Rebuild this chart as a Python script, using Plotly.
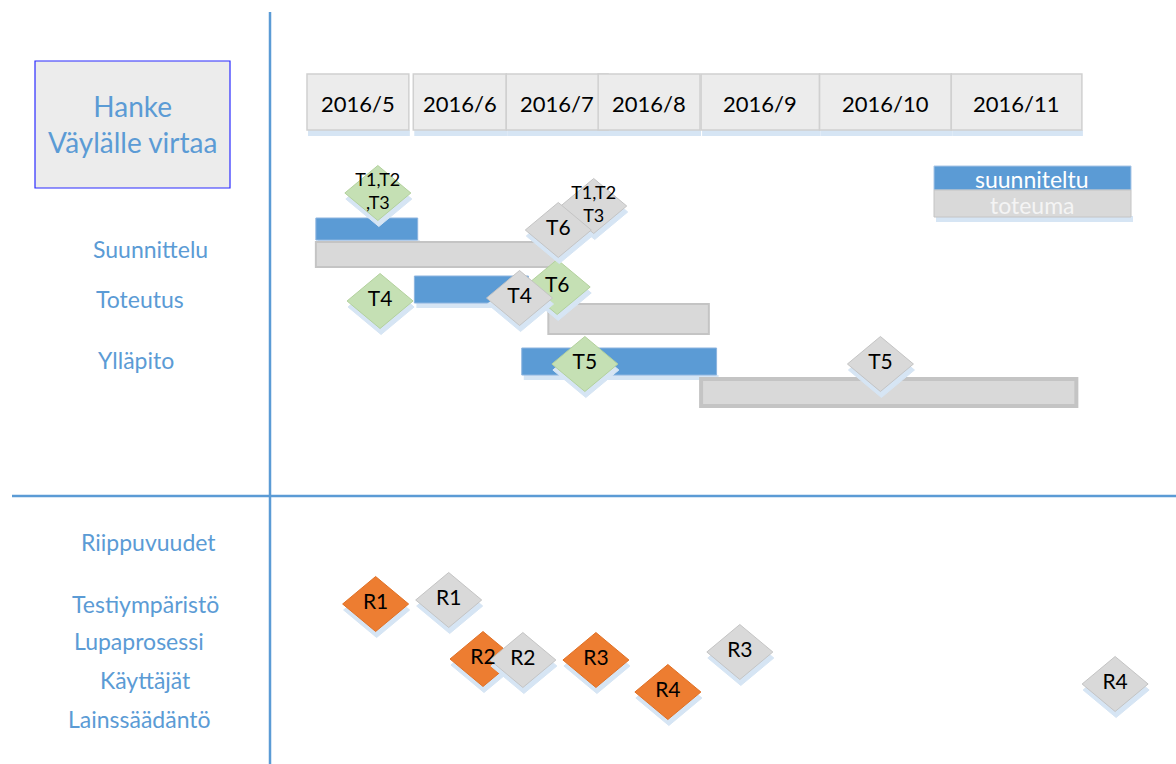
import plotly.graph_objects as go

# ---------------- data ----------------
months = ["2016/5", "2016/6", "2016/7", "2016/8", "2016/9", "2016/10", "2016/11"]
month_box_start = [5.00, 5.96, 6.80, 7.63, 8.56, 9.63, 10.82]
month_box_end = [5.92, 6.80, 7.72, 8.55, 9.63, 10.82, 12.00]

phases = ["Suunnittelu", "Toteutus", "Ylläpito"]
planned_start = [5.08, 5.97, 6.94]
planned_end = [6.00, 7.00, 8.70]
actual_start = [5.08, 7.18, 8.56]
actual_end = [7.26, 8.63, 11.95]

task_planned_labels = ["T1,T2<br>,T3", "T4", "T6", "T5"]
task_planned_month = [5.64, 5.66, 7.26, 7.51]
task_actual_labels = ["T1,T2<br>T3", "T6", "T4", "T5"]
task_actual_month = [7.59, 7.27, 6.92, 10.18]

dependencies = ["Riippuvuudet", "Testiympäristö", "Lupaprosessi", "Käyttäjät", "Lainssäädäntö"]
risk_planned_labels = ["R1", "R2", "R3", "R4"]
risk_planned_month = [5.62, 6.59, 7.61, 8.26]
risk_actual_labels = ["R1", "R2", "R3", "R4"]
risk_actual_month = [6.28, 6.95, 8.91, 12.30]

title_text = "Hanke<br>Väylälle virtaa"
legend_labels = ["suunniteltu", "toteuma"]

# ---------------- layout constants (positions / styles) ----------------
W, H = 1176, 764
PX_PER_MONTH = 110.7
MAY_PX = 307
FONT = "Lato, Carlito, sans-serif"
BLUE = "#5b9bd5"
GRAY = "#d9d9d9"
GRAY_LINE = "#c4c4c4"
GREEN = "#c5e0b4"
ORANGE = "#ed7d31"
SHADOW = "#d6e5f4"

def mx(px):
    return 5 + (px - MAY_PX) / PX_PER_MONTH

def pxm(px):  # pixel length -> months
    return px / PX_PER_MONTH

def pp(px):  # pixel -> paper x
    return px / W

planned_bar_y = [(218, 240), (276, 303), (348, 375)]
actual_bar_y = [(241, 268), (303, 335), (377, 408)]
actual_bar_lw = [2, 2, 4]
task_planned_y = [193, 301, 287, 364]
task_actual_y = [206, 230, 298, 364]
task_planned_size = [18, 21, 21, 21]
task_actual_size = [18, 21, 21, 21]
risk_planned_y = [604, 659, 660, 692]
risk_actual_y = [600, 660, 652, 684]
phase_label_pos = [(150, 249), (140, 299), (136, 360)]
dep_label_pos = [(148, 542), (145, 604), (139, 641), (145, 680), (139, 719)]
HEADER_Y = (74, 130)
HW, HH = 33, 27.5  # diamond half width / half height in px

shapes = []
annotations = []


def ann(x, y, text, size, color, xref="paper"):
    annotations.append(dict(xref=xref, yref="y", x=x, y=y, text=text, showarrow=False,
                            xanchor="center", yanchor="middle", align="center",
                            font=dict(family=FONT, size=size, color=color)))


# divider lines
shapes.append(dict(type="line", xref="paper", yref="y", x0=pp(270), x1=pp(270), y0=12, y1=H,
                   line=dict(color=BLUE, width=2.5), layer="below"))
shapes.append(dict(type="line", xref="paper", yref="y", x0=pp(12), x1=1, y0=496, y1=496,
                   line=dict(color=BLUE, width=2.5), layer="below"))

# title box
shapes.append(dict(type="rect", xref="paper", yref="y", x0=pp(35), x1=pp(230), y0=61, y1=188,
                   fillcolor="#ececec", line=dict(color="#2b2bff", width=1.2), layer="below"))
ann(pp(132), 124, title_text, 28, BLUE)

# row labels
for lab, (x, y) in zip(phases, phase_label_pos):
    ann(pp(x), y, lab, 23, BLUE)
for lab, (x, y) in zip(dependencies, dep_label_pos):
    ann(pp(x), y, lab, 23, BLUE)

# month headers
for s, e in zip(month_box_start, month_box_end):
    shapes.append(dict(type="rect", xref="x", yref="y", x0=s + pxm(1), x1=e + pxm(1),
                       y0=HEADER_Y[1], y1=HEADER_Y[1] + 6, fillcolor=SHADOW, line=dict(width=0),
                       layer="below"))
for lab, s, e in zip(months, month_box_start, month_box_end):
    shapes.append(dict(type="rect", xref="x", yref="y", x0=s, x1=e, y0=HEADER_Y[0], y1=HEADER_Y[1],
                       fillcolor="#ececec", line=dict(color="#d0d0d0", width=1.5), layer="below"))
    ann((s + e) / 2, (HEADER_Y[0] + HEADER_Y[1]) / 2 + 1, lab, 22, "black", xref="x")

# bars
for i in range(len(phases)):
    y0, y1 = planned_bar_y[i]
    shapes.append(dict(type="rect", xref="x", yref="y", x0=planned_start[i] + pxm(2),
                       x1=planned_end[i] + pxm(2), y0=y1, y1=y1 + 5, fillcolor=SHADOW,
                       line=dict(width=0), layer="below"))
    shapes.append(dict(type="rect", xref="x", yref="y", x0=planned_start[i], x1=planned_end[i],
                       y0=y0, y1=y1, fillcolor=BLUE, line=dict(color="#8db4df", width=1),
                       layer="below"))
    a0, a1 = actual_bar_y[i]
    lw = actual_bar_lw[i]
    shapes.append(dict(type="rect", xref="x", yref="y", x0=actual_start[i], x1=actual_end[i],
                       y0=a0 + lw / 2, y1=a1 - lw / 2, fillcolor=GRAY,
                       line=dict(color=GRAY_LINE, width=lw), layer="below"))

# legend box
shapes.append(dict(type="rect", xref="paper", yref="y", x0=pp(936), x1=pp(1133), y0=216, y1=222,
                   fillcolor=SHADOW, line=dict(width=0), layer="below"))
shapes.append(dict(type="rect", xref="paper", yref="y", x0=pp(934), x1=pp(1131), y0=166, y1=190,
                   fillcolor=BLUE, line=dict(color="#a9c6e6", width=1), layer="below"))
shapes.append(dict(type="rect", xref="paper", yref="y", x0=pp(934), x1=pp(1131), y0=190, y1=217,
                   fillcolor=GRAY, line=dict(color=GRAY_LINE, width=1), layer="below"))
ann(pp(1032), 179, legend_labels[0], 23, "white")
ann(pp(1032), 205, legend_labels[1], 23, "#f4f4f4")

fig = go.Figure()


def diamond(cx, cy, fill, line_color, dx=0.0, dy=0.0):
    hw = pxm(HW)
    xs = [cx + dx - hw, cx + dx, cx + dx + hw, cx + dx, cx + dx - hw]
    ys = [cy + dy, cy + dy - HH, cy + dy, cy + dy + HH, cy + dy]
    fig.add_trace(go.Scatter(x=xs, y=ys, mode="lines", fill="toself", fillcolor=fill,
                             line=dict(color=line_color, width=1), hoverinfo="skip",
                             showlegend=False))


groups = [
    (task_planned_month, task_planned_y, GREEN, "#b3d19d"),
    (task_actual_month, task_actual_y, GRAY, GRAY_LINE),
    (risk_planned_month, risk_planned_y, ORANGE, "#e07025"),
    (risk_actual_month, risk_actual_y, GRAY, GRAY_LINE),
]
for ms, ys, fill, lc in groups:
    for m, y in zip(ms, ys):
        diamond(m, y, SHADOW, SHADOW, dx=pxm(1), dy=6)
        diamond(m, y, fill, lc)

# labels on diamonds
lab_x = task_planned_month + task_actual_month + risk_planned_month + risk_actual_month
lab_y = task_planned_y + task_actual_y + risk_planned_y + risk_actual_y
lab_t = task_planned_labels + task_actual_labels + risk_planned_labels + risk_actual_labels
lab_s = task_planned_size + task_actual_size + [21] * 8
fig.add_trace(go.Scatter(x=lab_x, y=lab_y, mode="text", text=lab_t,
                         textfont=dict(family=FONT, size=lab_s, color="black"),
                         hoverinfo="skip", showlegend=False))

fig.update_layout(
    width=W, height=H, margin=dict(l=0, r=0, t=0, b=0),
    paper_bgcolor="white", plot_bgcolor="white",
    xaxis=dict(range=[mx(0), mx(W)], visible=False, fixedrange=True),
    yaxis=dict(range=[H, 0], visible=False, fixedrange=True),
    shapes=shapes, annotations=annotations, showlegend=False,
)

fig.write_html("out.html", config={"displayModeBar": False},
               post_script="document.body.style.margin='0';document.body.style.overflow='hidden';")
